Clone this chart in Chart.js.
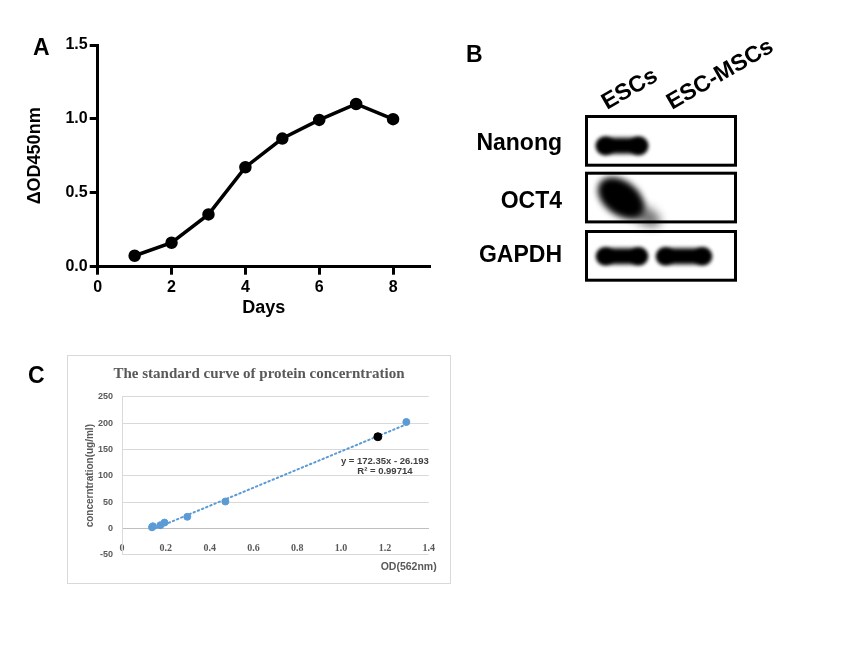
<!DOCTYPE html>
<html>
<head>
<meta charset="utf-8">
<script src="https://cdn.jsdelivr.net/npm/chart.js@4.4.1/dist/chart.umd.min.js"></script>
<style>
  body { margin: 0; background: #fff; }
  #wrap { position: relative; width: 865px; height: 662px; overflow: hidden; }
  canvas { position: absolute; }
  #fig { left: 0; top: 0; }
  #growth { left: 0; top: 0; }
  #curveBox { position: absolute; left: 67px; top: 355px; width: 384px; height: 229px; box-sizing: border-box; border: 1px solid #d9d9d9; }
  #curve { left: 68px; top: 355px; }
</style>
</head>
<body>
<div id="wrap">
  <canvas id="fig" width="865" height="662"></canvas>
  <canvas id="growth" width="450" height="330"></canvas>
  <div id="curveBox"></div>
  <canvas id="curve" width="382" height="228"></canvas>
</div>
<script>
// panel A - growth curve
const days = [1, 2, 3, 4, 5, 6, 7, 8];
const odValues = [0.074, 0.162, 0.354, 0.673, 0.867, 0.993, 1.101, 0.998];

// panel B - western blot
const laneNames = ["ESCs", "ESC-MSCs"];
const blotRows = ["Nanong", "OCT4", "GAPDH"];
const bandLevels = [[1, 0], [1, 0], [1, 1]];

// panel C - standard curve
const odStd = [0.137, 0.141, 0.175, 0.194, 0.298, 0.472, 1.298];
const concStd = [2, 4, 6, 11, 22, 51, 202];
const odSample = [1.168];
const concSample = [174];
const trendOd = [0.137, 1.298];
const trendConc = [-2.6, 197.5];
const trendText = ["y = 172.35x - 26.193", "R\u00b2 = 0.99714"];

const sans = '"Liberation Sans", Arial, Helvetica, sans-serif';
const serif = '"Liberation Serif", "Times New Roman", serif';
Chart.defaults.font.family = sans;

//letters + blot
const fig = document.getElementById("fig").getContext("2d");
fig.fillStyle = "#000";
fig.font = "bold 23px " + sans;
fig.fillText("A", 33, 55);
fig.fillText("B", 466, 62);
fig.fillText("C", 28, 383);

const rowTops = [115, 171.7, 230];
const rowH = 51.7;
const boxX = 585, boxW = 152;
const laneX = [622, 684];
const laneW = [51, 55];

function band(ctx, cx, cy, w, h, lump) {
  const r = h / 2;
  ctx.beginPath();
  ctx.moveTo(cx - w / 2 + r, cy - r);
  ctx.lineTo(cx + w / 2 - r, cy - r);
  ctx.arc(cx + w / 2 - r, cy, r, -Math.PI / 2, Math.PI / 2);
  ctx.lineTo(cx - w / 2 + r, cy + r);
  ctx.arc(cx - w / 2 + r, cy, r, Math.PI / 2, Math.PI * 1.5);
  ctx.fill();
  // slightly heavier ends
  ctx.beginPath();
  ctx.arc(cx - w / 2 + r + 1, cy, r + lump, 0, Math.PI * 2);
  ctx.arc(cx + w / 2 - r - 1, cy, r + lump, 0, Math.PI * 2);
  ctx.fill();
}

fig.save();
fig.filter = "blur(2.2px)";
bandLevels.forEach((row, r) => {
  row.forEach((lvl, i) => {
    if (!lvl) return;
    const cy = rowTops[r] + rowH / 2;
    if (r === 1) {
      fig.save();
      fig.filter = "blur(5px)";
      fig.fillStyle = "rgba(0,0,0,0.55)";
      fig.beginPath();
      fig.ellipse(laneX[i] + 23, cy + 18, 17, 9, 0.5, 0, Math.PI * 2);
      fig.fill();
      fig.filter = "blur(3px)";
      fig.fillStyle = "#000";
      fig.beginPath();
      fig.ellipse(laneX[i] - 1, cy + 0.5, 26, 17, 0.65, 0, Math.PI * 2);
      fig.fill();
      fig.restore();
    } else {
      band(fig, laneX[i], r === 0 ? cy + 5 : cy + 0.5, laneW[i], 16, r === 0 ? 0.8 : 0.4);
    }
  });
});
fig.restore();

fig.lineWidth = 3;
fig.strokeStyle = "#000";
rowTops.forEach(t => fig.strokeRect(boxX + 1.5, t + 1.5, boxW - 3, rowH - 3));

fig.font = "bold 23px " + sans;
fig.textAlign = "right";
const rowBase = [150, 208.3, 261.7];
blotRows.forEach((name, r) => fig.fillText(name, 562, rowBase[r]));

fig.textAlign = "left";
const laneStart = [607, 672];
laneNames.forEach((name, i) => {
  fig.save();
  fig.translate(laneStart[i], 110);
  fig.rotate(-30 * Math.PI / 180);
  fig.fillText(name, 0, 0);
  fig.restore();
});

//chart A
const bold16 = { family: sans, size: 16, weight: "bold" };
const growth = new Chart(document.getElementById("growth"), {
  type: "line",
  data: {
    datasets: [
      {
        data: days.map((d, i) => ({ x: d, y: odValues[i] })),
        borderColor: "#000",
        borderWidth: 3.5,
        pointRadius: 4.5,
        pointBackgroundColor: "#000",
        pointBorderColor: "#000",
        tension: 0,
      },
    ],
  },
  options: {
    responsive: false,
    animation: false,
    layout: { padding: { left: 0, top: 45, right: 20, bottom: 0 } },
    plugins: { legend: { display: false }, tooltip: { enabled: false } },
    scales: {
      x: {
        type: "linear",
        min: 0,
        max: 9,
        ticks: { stepSize: 2, includeBounds: false, color: "#000", font: bold16, padding: 3 },
        grid: { drawOnChartArea: false, tickLength: 8, tickWidth: 3, tickColor: "#000" },
        border: { color: "#000", width: 3 },
        title: { display: true, text: "Days", color: "#000", font: { family: sans, size: 18, weight: "bold" }, padding: { top: 0, bottom: 11.2 } },
        afterFit: (s) => { s.height = 63.3; },
      },
      y: {
        min: 0,
        max: 1.5,
        ticks: { stepSize: 0.5, color: "#000", font: bold16, padding: 2, callback: (v) => v.toFixed(1) },
        grid: { drawOnChartArea: false, tickLength: 8, tickWidth: 3, tickColor: "#000" },
        border: { color: "#000", width: 3 },
        title: { display: true, text: "\u0394OD450nm", color: "#000", font: { family: sans, size: 18, weight: "bold" }, padding: { top: 24.2, bottom: 0 } },
        afterFit: (s) => { s.width = 97.7; },
      },
    },
  },
});

//chart C
const eqLabel = {
  id: "eqLabel",
  afterDatasetsDraw(chart, args, opts) {
    const { ctx, scales } = chart;
    ctx.save();
    ctx.font = "bold 9.5px " + sans;
    ctx.fillStyle = "#404040";
    ctx.textAlign = "center";
    ctx.textBaseline = "middle";
    opts.lines.forEach((t, i) => {
      ctx.fillText(t, scales.x.getPixelForValue(opts.x), scales.y.getPixelForValue(opts.y[i]));
    });
    ctx.restore();
  },
};

const curve = new Chart(document.getElementById("curve"), {
  type: "scatter",
  data: {
    datasets: [
      {
        data: odStd.map((v, i) => ({ x: v, y: concStd[i] })),
        backgroundColor: "#5b9bd5",
        borderColor: "#5b9bd5",
        pointRadius: 3.5,
        yAxisID: "y",
      },
      {
        data: odSample.map((v, i) => ({ x: v, y: concSample[i] })),
        backgroundColor: "#000",
        borderColor: "#000",
        pointRadius: 4,
        yAxisID: "y",
      },
      {
        type: "line",
        data: trendOd.map((v, i) => ({ x: v, y: trendConc[i] })),
        borderColor: "#5b9bd5",
        borderWidth: 2,
        borderDash: [1.5, 3],
        borderCapStyle: "round",
        pointRadius: 0,
        fill: false,
        yAxisID: "y",
      },
    ],
  },
  options: {
    responsive: false,
    animation: false,
    layout: { padding: { left: 13.3, right: 13.3, top: 0, bottom: 0 } },
    plugins: {
      legend: { display: false },
      tooltip: { enabled: false },
      title: {
        display: true,
        text: "The standard curve of protein concerntration",
        color: "#595959",
        font: { family: serif, size: 15, weight: "bold" },
        padding: { top: 10, bottom: 13.7 },
      },
      subtitle: {
        display: true,
        text: "OD(562nm)",
        position: "bottom",
        align: "end",
        color: "#595959",
        font: { family: sans, size: 10.5, weight: "bold" },
        padding: { top: 6, bottom: 9.7 },
      },
      eqLabel: { lines: trendText, x: 1.2, y: [128, 107.6] },
    },
    scales: {
      x: {
        type: "linear",
        position: { y: 0 },
        min: 0,
        max: 1.4,
        ticks: { stepSize: 0.2, color: "#595959", font: { family: serif, size: 10, weight: "bold" }, padding: 6 },
        grid: { display: false },
        border: { color: "#bfbfbf", width: 1 },
      },
      y: {
        min: -50,
        max: 250,
        ticks: { stepSize: 50, color: "#595959", font: { family: sans, size: 9, weight: "bold" }, padding: 9 },
        grid: { color: "#d9d9d9", drawTicks: false },
        border: { color: "#d9d9d9", width: 1 },
        title: { display: true, text: "concerntration(ug/ml)", color: "#595959", font: { family: sans, size: 10, weight: "bold" }, padding: { top: 2.7, bottom: 0 } },
        afterFit: (s) => { s.width = 40.7; },
      },
      pad: {
        type: "linear",
        position: "right",
        grid: { display: false },
        border: { display: false },
        ticks: { display: false },
        afterFit: (s) => { s.width = 8; },
      },
    },
  },
  plugins: [eqLabel],
});
</script>
</body>
</html>
